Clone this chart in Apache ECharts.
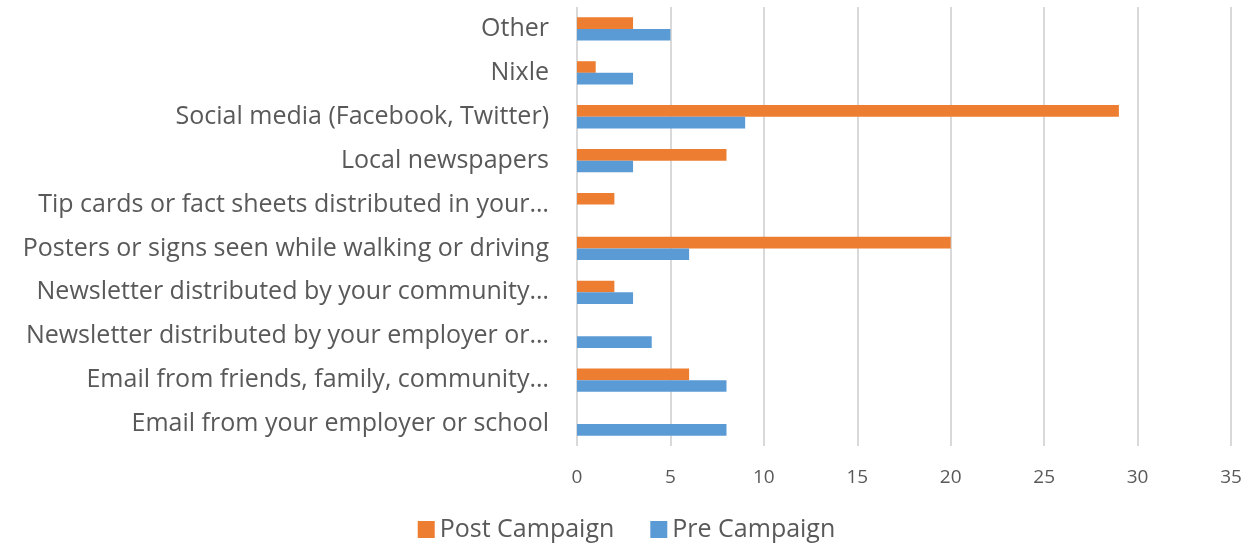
<!DOCTYPE html>
<html>
<head>
<meta charset="utf-8">
<script src="https://cdn.jsdelivr.net/npm/echarts@6/dist/echarts.min.js"></script>
<style>
  html, body { margin: 0; padding: 0; background: #fff; }
  #chart { width: 1253px; height: 548px; }
</style>
</head>
<body>
<div id="chart"></div>
<script>
// categories, bottom to top (as on the y axis)
const categories = [
  'Email from your employer or school',
  'Email from friends, family, community…',
  'Newsletter distributed by your employer or…',
  'Newsletter distributed by your community…',
  'Posters or signs seen while walking or driving',
  'Tip cards or fact sheets distributed in your…',
  'Local newspapers',
  'Social media (Facebook, Twitter)',
  'Nixle',
  'Other'
];
const postCampaign = [0, 6, 0, 2, 20, 2, 8, 29, 1, 3];
const preCampaign = [8, 8, 4, 3, 6, 0, 3, 9, 3, 5];

const textColor = '#595959';
const fontFamily = '"Open Sans", "Noto Sans", sans-serif';

const myChart = echarts.init(document.getElementById('chart'));
myChart.setOption({
  animation: false,
  textStyle: { fontFamily: fontFamily, color: textColor },
  grid: { left: 577, right: 22, top: 7, bottom: 102, containLabel: false },
  legend: {
    data: ['Post Campaign', 'Pre Campaign'],
    bottom: 1,
    left: 'center',
    itemWidth: 17,
    itemHeight: 17,
    itemGap: 36,
    icon: 'rect',
    textStyle: { fontSize: 25, color: textColor, fontFamily: fontFamily }
  },
  xAxis: {
    type: 'value',
    min: 0,
    max: 35,
    interval: 5,
    axisLine: { show: false },
    axisTick: { show: false },
    axisLabel: { fontSize: 19, color: textColor, margin: 22, fontFamily: fontFamily },
    splitLine: { show: true, lineStyle: { color: '#d9d9d9', width: 2 } }
  },
  yAxis: {
    type: 'category',
    data: categories,
    axisLine: { show: false },
    axisTick: { show: false },
    axisLabel: { fontSize: 25, color: textColor, margin: 28, fontFamily: fontFamily }
  },
  series: [
    {
      name: 'Post Campaign',
      type: 'bar',
      data: postCampaign,
      barGap: '0%',
      barCategoryGap: '47%',
      itemStyle: { color: '#ed7d31' }
    },
    {
      name: 'Pre Campaign',
      type: 'bar',
      data: preCampaign,
      barGap: '0%',
      barCategoryGap: '47%',
      itemStyle: { color: '#5b9bd5' }
    }
  ]
});
</script>
</body>
</html>
